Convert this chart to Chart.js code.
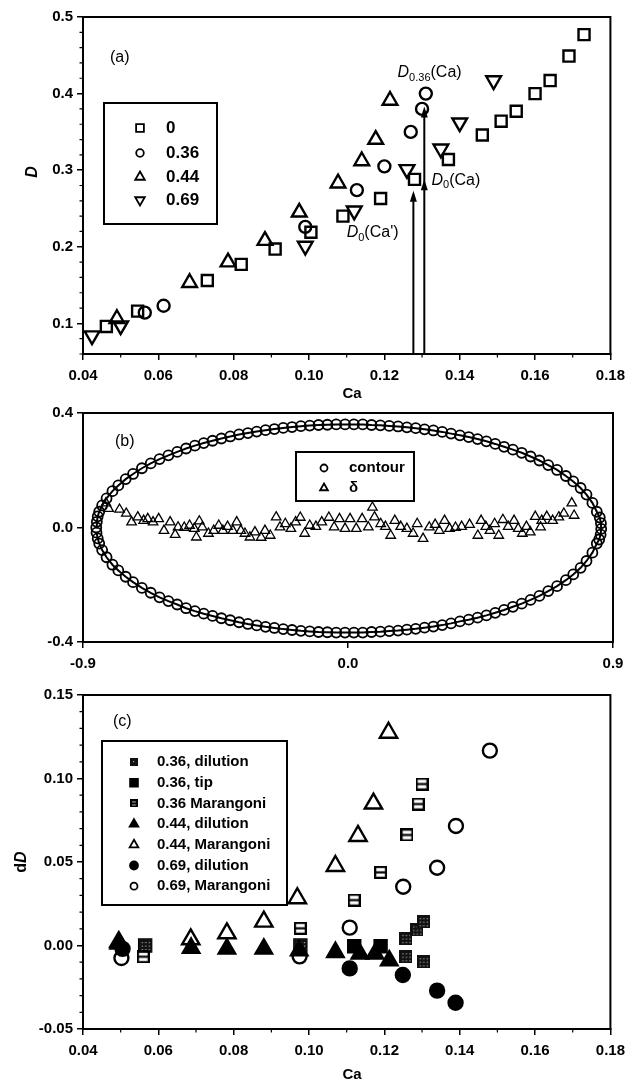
<!DOCTYPE html>
<html>
<head>
<meta charset="utf-8">
<script src="https://cdn.jsdelivr.net/npm/chart.js@4.4.0/dist/chart.umd.min.js"></script>
<style>
  body { margin: 0; background: #fff; }
  #wrap { position: relative; width: 632px; height: 1084px; }
  canvas { position: absolute; left: 0; }
</style>
</head>
<body>
<div id="wrap">
  <canvas id="chartA" style="top:0px" width="632" height="400"></canvas>
  <canvas id="chartB" style="top:400px" width="632" height="280"></canvas>
  <canvas id="chartC" style="top:680px" width="632" height="404"></canvas>
</div>
<script>
// ---------- (a) D vs Ca ----------
const caP0 = [0.0462, 0.0545, 0.073, 0.082, 0.091, 0.1005, 0.109, 0.119, 0.128, 0.137, 0.146, 0.151, 0.155, 0.160, 0.164, 0.169, 0.173];
const dP0  = [0.096, 0.116, 0.156, 0.177, 0.197, 0.219, 0.240, 0.263, 0.288, 0.314, 0.346, 0.364, 0.377, 0.400, 0.417, 0.449, 0.477];
const caP36 = [0.0564, 0.0614, 0.099, 0.1127, 0.120, 0.127, 0.130, 0.131];
const dP36  = [0.114, 0.123, 0.226, 0.274, 0.305, 0.350, 0.380, 0.400];
const caP44 = [0.049, 0.0683, 0.0785, 0.0883, 0.0974, 0.1077, 0.114, 0.1177, 0.1215];
const dP44  = [0.106, 0.153, 0.180, 0.208, 0.245, 0.283, 0.312, 0.340, 0.391];
const caP69 = [0.0424, 0.050, 0.099, 0.112, 0.126, 0.135, 0.140, 0.149];
const dP69  = [0.084, 0.097, 0.201, 0.247, 0.301, 0.328, 0.362, 0.417];
const caTicksA = [0.04, 0.06, 0.08, 0.10, 0.12, 0.14, 0.16, 0.18];
const dTicksA = [0.1, 0.2, 0.3, 0.4, 0.5];
// arrows: D0(Ca'), D0(Ca) -> D0.36(Ca)
const arrowCa = [0.1277, 0.1306];
const arrowTip = [0.273, 0.383];
const arrowMid = [null, 0.288];

// ---------- (b) drop contour and delta ----------
const contourX = [-0.855, -0.853,
  -0.85, -0.845, -0.835, -0.82, -0.80, -0.78, -0.755, -0.73, -0.70, -0.67, -0.64, -0.61, -0.58, -0.55, -0.52, -0.49,
  -0.46, -0.43, -0.40, -0.37, -0.34, -0.31, -0.28, -0.25, -0.22, -0.19, -0.16, -0.13, -0.10, -0.07, -0.04, -0.01,
  0.02, 0.05, 0.08, 0.11, 0.14, 0.17, 0.20, 0.23, 0.26, 0.29, 0.32, 0.35, 0.38, 0.41, 0.44, 0.47, 0.50, 0.53,
  0.56, 0.59, 0.62, 0.65, 0.68, 0.71, 0.74, 0.765, 0.79, 0.81, 0.83, 0.845,
  0.855, 0.859, 0.86, 0.858, 0.853,
  0.845, 0.83, 0.81, 0.79, 0.765, 0.74, 0.71, 0.68, 0.65, 0.62, 0.59, 0.56, 0.53, 0.50, 0.47, 0.44, 0.41, 0.38,
  0.35, 0.32, 0.29, 0.26, 0.23, 0.20, 0.17, 0.14, 0.11, 0.08, 0.05, 0.02, -0.01, -0.04, -0.07, -0.10, -0.13, -0.16,
  -0.19, -0.22, -0.25, -0.28, -0.31, -0.34, -0.37, -0.40, -0.43, -0.46, -0.49, -0.52, -0.55, -0.58, -0.61, -0.64,
  -0.67, -0.70, -0.73, -0.755, -0.78, -0.80, -0.82, -0.835, -0.845,
  -0.85, -0.854];
const contourY = [0.0, 0.02,
  0.039, 0.055, 0.077, 0.102, 0.127, 0.147, 0.169, 0.187, 0.207, 0.224, 0.239, 0.252, 0.264, 0.276, 0.286, 0.295,
  0.303, 0.311, 0.318, 0.325, 0.330, 0.335, 0.340, 0.344, 0.348, 0.351, 0.354, 0.356, 0.358, 0.359, 0.360, 0.360,
  0.360, 0.360, 0.358, 0.357, 0.355, 0.353, 0.350, 0.347, 0.343, 0.339, 0.334, 0.328, 0.322, 0.316, 0.309, 0.301, 0.292, 0.282,
  0.272, 0.261, 0.248, 0.234, 0.218, 0.201, 0.180, 0.161, 0.138, 0.115, 0.086, 0.055,
  0.035, 0.015, -0.005, -0.025, -0.042,
  -0.056, -0.088, -0.117, -0.141, -0.164, -0.184, -0.205, -0.222, -0.239, -0.253, -0.266, -0.277, -0.288, -0.298, -0.307, -0.315, -0.322, -0.328,
  -0.335, -0.341, -0.346, -0.350, -0.354, -0.357, -0.360, -0.362, -0.364, -0.365, -0.367, -0.367, -0.367, -0.367, -0.366, -0.365, -0.363, -0.361,
  -0.358, -0.355, -0.351, -0.347, -0.342, -0.337, -0.331, -0.324, -0.317, -0.309, -0.301, -0.292, -0.282, -0.269, -0.257, -0.244,
  -0.228, -0.211, -0.191, -0.172, -0.150, -0.130, -0.104, -0.079, -0.056,
  -0.038, -0.018];
const deltaX = [-0.822, -0.813, -0.776, -0.753, -0.735, -0.714, -0.694, -0.68, -0.662, -0.643, -0.625, -0.604, -0.587, -0.577,
  -0.556, -0.538, -0.522, -0.515, -0.505, -0.495, -0.474, -0.456, -0.439, -0.425, -0.409, -0.391, -0.378, -0.364, -0.35,
  -0.333, -0.316, -0.295, -0.282, -0.264, -0.244, -0.231, -0.213, -0.194, -0.178, -0.162, -0.147, -0.13, -0.109, -0.089,
  -0.065, -0.047, -0.029, -0.01, 0.007, 0.028, 0.048, 0.069, 0.083, 0.09, 0.111, 0.127, 0.145, 0.159, 0.179, 0.2, 0.221,
  0.235, 0.255, 0.276, 0.296, 0.31, 0.328, 0.345, 0.365, 0.386, 0.413, 0.441, 0.452, 0.468, 0.482, 0.498, 0.512, 0.526,
  0.544, 0.564, 0.578, 0.592, 0.606, 0.619, 0.636, 0.654, 0.658, 0.675, 0.695, 0.716, 0.733, 0.76, 0.768];
const deltaY = [0.085, 0.066, 0.063, 0.049, 0.019, 0.036, 0.024, 0.03, 0.019, 0.03, -0.011, 0.019, -0.025, 0.001,
  0.0, 0.007, -0.004, -0.034, 0.022, 0.001, -0.021, -0.011, 0.007, -0.011, 0.003, -0.011, 0.019, -0.011, -0.021,
  -0.034, -0.016, -0.035, -0.011, -0.028, 0.036, 0.001, 0.013, -0.004, 0.019, 0.035, -0.021, 0.007, 0.003, 0.019,
  0.035, 0.001, 0.03, -0.004, 0.03, -0.004, 0.03, 0.001, 0.07, 0.036, 0.013, 0.003, -0.028, 0.024, 0.003, -0.004, -0.021,
  0.013, -0.039, 0.001, 0.01, -0.011, 0.024, -0.004, 0.0, 0.003, 0.01, -0.028, 0.024, 0.003, -0.011, 0.013, -0.028, 0.027,
  0.003, 0.024, -0.004, -0.021, 0.003, -0.016, 0.038, 0.001, 0.024, 0.038, 0.024, 0.036, 0.049, 0.085, 0.042];
const xTicksB = [-0.9, 0.0, 0.9];
const yTicksB = [-0.4, 0.0, 0.4];

// ---------- (c) dD vs Ca ----------
const caDil36 = [0.0565, 0.0977, 0.1257, 0.1286, 0.1303, 0.1257, 0.1303];
const dDDil36 = [0.0, 0.0, 0.0043, 0.0093, 0.0143, -0.0067, -0.0097];
const caTip36 = [0.0565, 0.0977, 0.112, 0.119];
const dDTip36 = [0.0, 0.0, -0.0005, -0.0005];
const caMar36 = [0.056, 0.0977, 0.112, 0.119, 0.126, 0.129, 0.130];
const dDMar36 = [-0.0067, 0.0103, 0.0272, 0.0438, 0.0662, 0.0847, 0.0967];
const caDil44 = [0.0495, 0.0687, 0.0782, 0.088, 0.0974, 0.107, 0.1135, 0.1175, 0.1213];
const dDDil44 = [0.001, -0.0015, -0.002, -0.002, -0.003, -0.004, -0.005, -0.005, -0.009];
const caMar44 = [0.0495, 0.0686, 0.0782, 0.088, 0.0969, 0.107, 0.113, 0.1171, 0.1211];
const dDMar44 = [0.002, 0.0037, 0.0073, 0.0143, 0.0283, 0.0476, 0.0656, 0.085, 0.1274];
const caDil69 = [0.0505, 0.1108, 0.1249, 0.134, 0.1389];
const dDDil69 = [-0.002, -0.0137, -0.0177, -0.027, -0.0343];
const caMar69 = [0.0502, 0.0975, 0.1108, 0.125, 0.134, 0.139, 0.148];
const dDMar69 = [-0.0075, -0.0065, 0.0107, 0.0352, 0.0466, 0.0716, 0.1167];
const caTicksC = [0.04, 0.06, 0.08, 0.10, 0.12, 0.14, 0.16, 0.18];
const dDTicksC = [-0.05, 0.0, 0.05, 0.10, 0.15];

const FAMILY = '"Liberation Sans", Arial, sans-serif';
const drawPoint = Chart.helpers.drawPoint;

function pts(xs, ys) {
  return xs.map((x, i) => ({ x: x, y: ys[i] }));
}

// little canvases used as point styles for the patterned squares
function markerImg(size, paint) {
  const c = document.createElement("canvas");
  c.width = size; c.height = size;
  paint(c.getContext("2d"), size);
  return c;
}
function barSquare(g, s) {
  g.strokeStyle = "#000"; g.lineWidth = 2.2;
  g.strokeRect(1.1, 1.1, s - 2.2, s - 2.2);
  g.beginPath(); g.moveTo(1, s / 2); g.lineTo(s - 1, s / 2); g.stroke();
}
function gridSquare(g, s) {
  g.fillStyle = "#111"; g.fillRect(0, 0, s, s);
  g.fillStyle = "#aaa";
  for (let i = 3; i < s - 2; i += 3.5) for (let j = 3; j < s - 2; j += 3.5) g.fillRect(i, j, 1.2, 1.2);
}
const barSq = markerImg(13, barSquare), barSqSmall = markerImg(8, barSquare);
const gridSq = markerImg(13, gridSquare), gridSqSmall = markerImg(8, gridSquare);

function scales(xMin, xMax, yMin, yMax, xTicks, yTicks, xFmt, yFmt, xH) {
  const tickFont = { family: FAMILY, size: 15, weight: "bold" };
  const grid = { drawOnChartArea: false, color: "#000", tickLength: 6, lineWidth: 1.5 };
  return {
    x: {
      type: "linear", min: xMin, max: xMax,
      afterBuildTicks: s => { s.ticks = xTicks.map(v => ({ value: v })); },
      afterFit: s => { s.height = xH; },
      ticks: { callback: v => xFmt(v), font: tickFont, color: "#000", padding: 7, maxRotation: 0, autoSkip: false },
      grid: grid, border: { color: "#000", width: 2 }
    },
    y: {
      type: "linear", min: yMin, max: yMax,
      afterBuildTicks: s => { s.ticks = yTicks.map(v => ({ value: v })); },
      afterFit: s => { s.width = 83; },
      ticks: { callback: v => yFmt(v), font: tickFont, color: "#000", padding: 4, autoSkip: false },
      grid: grid, border: { color: "#000", width: 2 }
    }
  };
}

function baseOptions(padTop, sc) {
  return {
    responsive: false, animation: false, events: [],
    layout: { padding: { left: 0, right: 19, top: padTop, bottom: 0 } },
    plugins: { legend: { display: false }, tooltip: { enabled: false } },
    scales: sc
  };
}

function frame(ctx, a) {
  ctx.strokeStyle = "#000"; ctx.lineWidth = 2;
  ctx.strokeRect(a.left, a.top, a.right - a.left, a.bottom - a.top);
}

function minorTicks(ctx, scale, horizontal, a, from, to, step, majors) {
  ctx.strokeStyle = "#000"; ctx.lineWidth = 1.2;
  ctx.beginPath();
  for (let k = Math.round(from / step); k * step <= to + 1e-9; k++) {
    const v = k * step;
    if (majors.some(m => Math.abs(m - v) < 1e-9)) continue;
    const p = scale.getPixelForValue(v);
    if (horizontal) { ctx.moveTo(p, a.bottom); ctx.lineTo(p, a.bottom + 3.5); }
    else { ctx.moveTo(a.left, p); ctx.lineTo(a.left - 3.5, p); }
  }
  ctx.stroke();
}

function legendBox(ctx, x, y, w, h, items, mx, tx, font) {
  ctx.strokeStyle = "#000"; ctx.lineWidth = 2;
  ctx.strokeRect(x, y, w, h);
  items.forEach(it => {
    ctx.fillStyle = it.fill || "rgba(0,0,0,0)";
    ctx.strokeStyle = "#000";
    ctx.lineWidth = it.bw || 1.8;
    drawPoint(ctx, { pointStyle: it.style, radius: it.r || 4, rotation: it.rot || 0, borderWidth: it.bw || 1.8 }, mx, it.y);
    ctx.fillStyle = "#000"; ctx.font = font; ctx.textBaseline = "middle"; ctx.textAlign = "left";
    ctx.fillText(it.label, tx, it.y);
  });
}

function richText(ctx, x, y, parts) {
  ctx.textBaseline = "middle"; ctx.textAlign = "left"; ctx.fillStyle = "#000";
  parts.forEach(p => {
    ctx.font = p[1];
    ctx.fillText(p[0], x, y + (p[2] || 0));
    x += ctx.measureText(p[0]).width;
  });
}

function text(ctx, s, x, y, font, align, rot) {
  ctx.save();
  ctx.translate(x, y);
  if (rot) ctx.rotate(rot);
  ctx.font = font; ctx.fillStyle = "#000";
  ctx.textAlign = align || "center"; ctx.textBaseline = "middle";
  ctx.fillText(s, 0, 0);
  ctx.restore();
}

const open = "rgba(0,0,0,0)";
const big = 'bold 15px ' + FAMILY;

// ---------- chart (a) ----------
const decorA = {
  id: "decorA",
  afterDatasetsDraw(chart) {
    const { ctx, chartArea: a } = chart;
    const x = chart.scales.x, y = chart.scales.y;
    ctx.save();
    frame(ctx, a);
    minorTicks(ctx, x, true, a, 0.04, 0.18, 0.01, caTicksA);
    minorTicks(ctx, y, false, a, 0.06, 0.5, 0.02, dTicksA);

    // arrows from the axis up to the marked points
    ctx.strokeStyle = "#000"; ctx.fillStyle = "#000"; ctx.lineWidth = 2;
    const head = (px, py) => {
      ctx.beginPath(); ctx.moveTo(px, py); ctx.lineTo(px - 3.5, py + 11); ctx.lineTo(px + 3.5, py + 11); ctx.closePath(); ctx.fill();
    };
    arrowCa.forEach((c, i) => {
      const px = x.getPixelForValue(c), top = y.getPixelForValue(arrowTip[i]);
      ctx.beginPath(); ctx.moveTo(px, a.bottom); ctx.lineTo(px, top + 4); ctx.stroke();
      head(px, top);
      if (arrowMid[i] != null) head(px, y.getPixelForValue(arrowMid[i]));
    });

    const it = 'italic 16px ' + FAMILY, rg = '16px ' + FAMILY, sub = '11px ' + FAMILY;
    richText(ctx, x.getPixelForValue(0.1235), y.getPixelForValue(0.427), [["D", it], ["0.36", sub, 5], ["(Ca)", rg]]);
    richText(ctx, x.getPixelForValue(0.1325), y.getPixelForValue(0.287), [["D", it], ["0", sub, 5], ["(Ca)", rg]]);
    richText(ctx, x.getPixelForValue(0.110), y.getPixelForValue(0.218), [["D", it], ["0", sub, 5], ["(Ca')", rg]]);

    text(ctx, "(a)", 110, 58, '16px ' + FAMILY, "left");
    text(ctx, "Ca", 352, 394, big);
    text(ctx, "D", 33, 172, 'italic bold 16px ' + FAMILY, "center", -Math.PI / 2);

    legendBox(ctx, 104, 103, 113, 121, [
      { label: "0", style: "rect", r: 5.5, y: 128 },
      { label: "0.36", style: "circle", r: 3.8, y: 153 },
      { label: "0.44", style: "triangle", r: 5.5, y: 177 },
      { label: "0.69", style: "triangle", r: 5.5, rot: 180, y: 200 }
    ], 140, 166, 'bold 17px ' + FAMILY);
    ctx.restore();
  }
};

new Chart(document.getElementById("chartA"), {
  type: "scatter",
  data: {
    datasets: [
      { label: "0", data: pts(caP0, dP0), pointStyle: "rect", pointRadius: 7.8 },
      { label: "0.36", data: pts(caP36, dP36), pointStyle: "circle", pointRadius: 6 },
      { label: "0.44", data: pts(caP44, dP44), pointStyle: "triangle", pointRadius: 8.5 },
      { label: "0.69", data: pts(caP69, dP69), pointStyle: "triangle", pointRotation: 180, pointRadius: 8.5 }
    ].map(d => Object.assign({ pointBorderColor: "#000", pointBackgroundColor: open, pointBorderWidth: 2.4 }, d))
  },
  options: baseOptions(17, scales(0.04, 0.18, 0.06, 0.5, caTicksA, dTicksA, v => v.toFixed(2), v => v.toFixed(1), 46)),
  plugins: [decorA]
});

// ---------- chart (b) ----------
const decorB = {
  id: "decorB",
  afterDatasetsDraw(chart) {
    const { ctx, chartArea: a } = chart;
    ctx.save();
    frame(ctx, a);
    text(ctx, "(b)", 115, 42, '16px ' + FAMILY, "left");
    ctx.fillStyle = "#fff"; ctx.fillRect(296, 52, 118, 49);
    legendBox(ctx, 296, 52, 118, 49, [
      { label: "contour", style: "circle", r: 3.5, y: 68 },
      { label: "\u03b4", style: "triangle", r: 4.5, y: 88 }
    ], 324, 349, 'bold 15px ' + FAMILY);
    ctx.restore();
  }
};

new Chart(document.getElementById("chartB"), {
  type: "scatter",
  data: {
    datasets: [
      { label: "contour", data: pts(contourX, contourY), showLine: true, borderColor: "#000", borderWidth: 2,
        pointStyle: "circle", pointRadius: 5, pointBorderColor: "#000", pointBackgroundColor: open, pointBorderWidth: 1.8 },
      { label: "\u03b4", data: pts(deltaX, deltaY), pointStyle: "triangle", pointRadius: 5.5,
        pointBorderColor: "#000", pointBackgroundColor: open, pointBorderWidth: 1.3 }
    ]
  },
  options: baseOptions(13, scales(-0.9, 0.9, -0.4, 0.4, xTicksB, yTicksB, v => v.toFixed(1), v => v.toFixed(1), 38)),
  plugins: [decorB]
});

// ---------- chart (c) ----------
const decorC = {
  id: "decorC",
  afterDatasetsDraw(chart) {
    const { ctx, chartArea: a } = chart;
    const x = chart.scales.x, y = chart.scales.y;
    ctx.save();
    frame(ctx, a);
    minorTicks(ctx, x, true, a, 0.04, 0.18, 0.01, caTicksC);
    minorTicks(ctx, y, false, a, -0.05, 0.15, 0.01, dDTicksC);
    text(ctx, "(c)", 113, 42, '16px ' + FAMILY, "left");
    text(ctx, "Ca", 352, 395, big);
    // y title: "d" upright + "D" italic, rotated
    ctx.save();
    ctx.translate(22, 182); ctx.rotate(-Math.PI / 2);
    ctx.font = 'bold 16px ' + FAMILY;
    const w1 = ctx.measureText("d").width;
    ctx.font = 'italic bold 16px ' + FAMILY;
    const w2 = ctx.measureText("D").width;
    richText(ctx, -(w1 + w2) / 2, 0, [["d", 'bold 16px ' + FAMILY], ["D", 'italic bold 16px ' + FAMILY]]);
    ctx.restore();

    const rows = [82, 102.7, 123.4, 144.1, 164.8, 185.5, 206.2];
    legendBox(ctx, 102, 61, 185, 164, [
      { label: "0.36, dilution", style: gridSqSmall, y: rows[0] },
      { label: "0.36, tip", style: "rect", r: 5.5, fill: "#000", y: rows[1] },
      { label: "0.36 Marangoni", style: barSqSmall, y: rows[2] },
      { label: "0.44, dilution", style: "triangle", r: 5, fill: "#000", y: rows[3] },
      { label: "0.44, Marangoni", style: "triangle", r: 5, y: rows[4] },
      { label: "0.69, dilution", style: "circle", r: 4, fill: "#000", y: rows[5] },
      { label: "0.69, Marangoni", style: "circle", r: 3.5, y: rows[6] }
    ], 134, 157, 'bold 15px ' + FAMILY);
    ctx.restore();
  }
};

new Chart(document.getElementById("chartC"), {
  type: "scatter",
  data: {
    datasets: [
      { label: "0.69, Marangoni", data: pts(caMar69, dDMar69), pointStyle: "circle", pointRadius: 7, pointBackgroundColor: open },
      { label: "0.44, Marangoni", data: pts(caMar44, dDMar44), pointStyle: "triangle", pointRadius: 10, pointBackgroundColor: open },
      { label: "0.36 Marangoni", data: pts(caMar36, dDMar36), pointStyle: barSq, pointRadius: 7 },
      { label: "0.69, dilution", data: pts(caDil69, dDDil69), pointStyle: "circle", pointRadius: 7, pointBackgroundColor: "#000" },
      { label: "0.44, dilution", data: pts(caDil44, dDDil44), pointStyle: "triangle", pointRadius: 9.5, pointBackgroundColor: "#000" },
      { label: "0.36, dilution", data: pts(caDil36, dDDil36), pointStyle: gridSq, pointRadius: 7 },
      { label: "0.36, tip", data: pts(caTip36, dDTip36), pointStyle: "rect", pointRadius: 8.5, pointBackgroundColor: "#000" }
    ].map(d => Object.assign({ pointBorderColor: "#000", pointBorderWidth: 2.4 }, d))
  },
  options: baseOptions(15, scales(0.04, 0.18, -0.05, 0.15, caTicksC, dDTicksC, v => v.toFixed(2), v => v.toFixed(2), 55)),
  plugins: [decorC]
});
</script>
</body>
</html>
